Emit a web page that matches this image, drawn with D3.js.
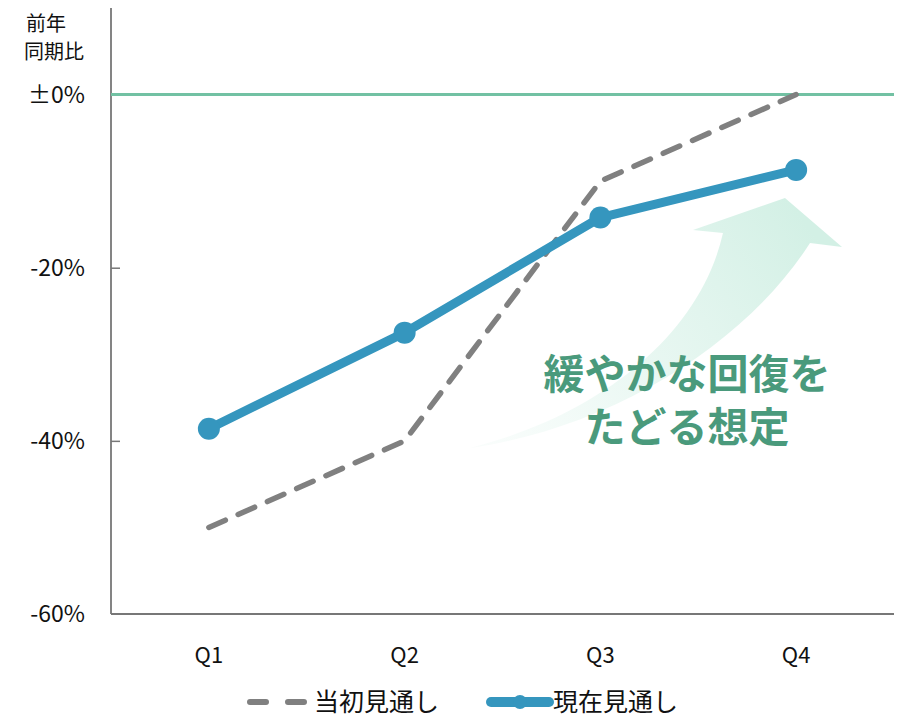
<!DOCTYPE html>
<html>
<head>
<meta charset="utf-8">
<script src="https://cdn.jsdelivr.net/npm/d3@7"></script>
<style>
  body { margin: 0; background: #fff; }
  svg { font-family: "Noto Sans CJK JP", "Noto Sans", sans-serif; }
</style>
</head>
<body>
<div id="chart"></div>
<script>
var quarters = ["Q1", "Q2", "Q3", "Q4"];
var initialPlan = [-50, -40, -10, 0];          // 当初見通し
var currentPlan = [-38.6, -27.5, -14.2, -8.7]; // 現在見通し
var yTicks = [0, -20, -40, -60];
var yTickLabels = ["±0%", "-20%", "-40%", "-60%"];
var seriesNames = ["当初見通し", "現在見通し"];

var width = 908, height = 718;
var plotLeft = 111, plotRight = 894, plotTop = 8, plotBottom = 614;

var svg = d3.select("#chart").append("svg")
    .attr("width", width).attr("height", height);

var x = d3.scaleBand().domain(quarters).range([plotLeft, plotRight]);
var y = d3.scaleLinear().domain([-60, 10]).range([plotBottom, plotTop]);
function cx(q) { return x(q) + x.bandwidth() / 2; }

// soft arrow behind the lines
var defs = svg.append("defs");
var grad = defs.append("linearGradient")
    .attr("id", "arrowGrad")
    .attr("gradientUnits", "userSpaceOnUse")
    .attr("x1", 470).attr("y1", 448)
    .attr("x2", 800).attr("y2", 215);
grad.append("stop").attr("offset", 0).attr("stop-color", "#eef9f5").attr("stop-opacity", 0.3);
grad.append("stop").attr("offset", 0.5).attr("stop-color", "#e2f5ee").attr("stop-opacity", 0.8);
grad.append("stop").attr("offset", 1).attr("stop-color", "#d3f0e5").attr("stop-opacity", 1);

svg.append("path")
    .attr("d", "M470,448 C600,415 700,335 723,233 L693,230 L785,198 L842,247 L810,243" +
        " C745,345 610,428 470,448 Z")
    .style("fill", "url(#arrowGrad)");

// axes
var yAxis = svg.append("g")
    .attr("transform", "translate(" + plotLeft + ",0)")
    .call(d3.axisRight(y).tickValues(yTicks.slice(1, 3)).tickSize(9)
        .tickFormat(""));
yAxis.select(".domain").remove();
yAxis.selectAll(".tick line").style("stroke", "#777").style("stroke-width", 1.5);

svg.append("line")
    .attr("x1", plotLeft).attr("y1", plotTop)
    .attr("x2", plotLeft).attr("y2", plotBottom)
    .style("stroke", "#777").style("stroke-width", 1.8);
svg.append("line")
    .attr("x1", plotLeft).attr("y1", plotBottom)
    .attr("x2", plotRight).attr("y2", plotBottom)
    .style("stroke", "#777").style("stroke-width", 1.8);

svg.selectAll(".ylab").data(yTicks).enter()
    .append("text")
    .attr("class", "ylab")
    .attr("x", 85)
    .attr("y", function(d) { return y(d); })
    .attr("dy", "0.36em")
    .attr("text-anchor", "end")
    .style("font-size", "23px")
    .style("fill", "#111")
    .text(function(d, i) { return yTickLabels[i]; });

svg.selectAll(".xlab").data(quarters).enter()
    .append("text")
    .attr("class", "xlab")
    .attr("x", function(d) { return cx(d); })
    .attr("y", 655)
    .attr("dy", "0.36em")
    .attr("text-anchor", "middle")
    .style("font-size", "22px")
    .style("fill", "#111")
    .text(function(d) { return d; });

// axis title
svg.append("text")
    .attr("x", 46).attr("y", 31)
    .attr("text-anchor", "middle")
    .style("font-size", "20px").style("fill", "#111")
    .text("前年");
svg.append("text")
    .attr("x", 54).attr("y", 59)
    .attr("text-anchor", "middle")
    .style("font-size", "20px").style("fill", "#111")
    .text("同期比");

// zero line
svg.append("line")
    .attr("x1", plotLeft).attr("y1", y(0))
    .attr("x2", plotRight).attr("y2", y(0))
    .style("stroke", "#72c1a3").style("stroke-width", 3);

var line = d3.line()
    .x(function(d) { return cx(d.q); })
    .y(function(d) { return y(d.v); });

var initialData = quarters.map(function(q, i) { return { q: q, v: initialPlan[i] }; });
var currentData = quarters.map(function(q, i) { return { q: q, v: currentPlan[i] }; });

svg.append("path")
    .datum(initialData)
    .attr("d", line)
    .style("fill", "none")
    .style("stroke", "#808080")
    .style("stroke-width", 5.5)
    .style("stroke-linecap", "round")
    .style("stroke-dasharray", "18,14");

svg.append("path")
    .datum(currentData)
    .attr("d", line)
    .style("fill", "none")
    .style("stroke", "#3596be")
    .style("stroke-width", 9)
    .style("stroke-linejoin", "round");

svg.selectAll(".dot").data(currentData).enter()
    .append("circle")
    .attr("class", "dot")
    .attr("cx", function(d) { return cx(d.q); })
    .attr("cy", function(d) { return y(d.v); })
    .attr("r", 11)
    .style("fill", "#3596be");

// annotation
svg.append("text")
    .attr("x", 687).attr("y", 374)
    .attr("dy", "0.36em")
    .attr("text-anchor", "middle")
    .style("font-size", "41px").style("font-weight", "bold")
    .style("fill", "#4a9a7c")
    .text("緩やかな回復を");
svg.append("text")
    .attr("x", 687).attr("y", 427)
    .attr("dy", "0.36em")
    .attr("text-anchor", "middle")
    .style("font-size", "41px").style("font-weight", "bold")
    .style("fill", "#4a9a7c")
    .text("たどる想定");

// legend
var ly = 702;
svg.append("line")
    .attr("x1", 250).attr("y1", ly).attr("x2", 310).attr("y2", ly)
    .style("stroke", "#808080").style("stroke-width", 6)
    .style("stroke-linecap", "round")
    .style("stroke-dasharray", "16,22");
svg.append("text")
    .attr("x", 314).attr("y", ly).attr("dy", "0.36em")
    .style("font-size", "25px").style("fill", "#111")
    .text(seriesNames[0]);

svg.append("line")
    .attr("x1", 491).attr("y1", ly).attr("x2", 549).attr("y2", ly)
    .style("stroke", "#3596be").style("stroke-width", 10)
    .style("stroke-linecap", "round");
svg.append("circle")
    .attr("cx", 520).attr("cy", ly).attr("r", 7)
    .style("fill", "#3596be");
svg.append("text")
    .attr("x", 553).attr("y", ly).attr("dy", "0.36em")
    .style("font-size", "25px").style("fill", "#111")
    .text(seriesNames[1]);
</script>
</body>
</html>
